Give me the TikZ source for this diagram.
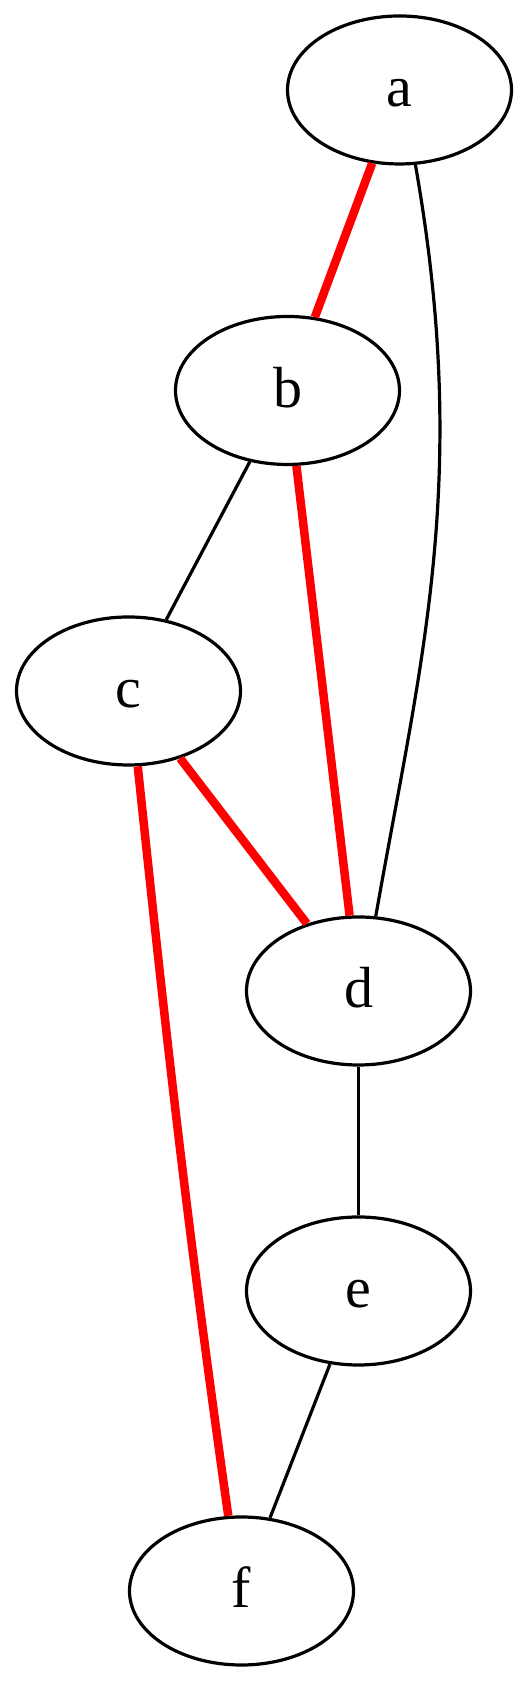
\documentclass[tikz,border=0pt]{standalone}
\usepackage{fontspec}
\setmainfont{Liberation Serif}
\usepackage{tikz}
\usetikzlibrary{shapes.geometric}
\definecolor{edgered}{rgb}{1,0,0}

\tikzset{
  vertex/.style={draw, ellipse, line width=3.2pt, inner sep=0pt,
    minimum width=224pt, minimum height=148pt,
    font=\fontsize{58}{70}\selectfont, text height=40pt, text depth=6pt},
  plain/.style={line width=3.2pt},
  marked/.style={edgered, line width=8.5pt}
}

\begin{document}
\begin{tikzpicture}[x=1pt,y=1pt]
  \useasboundingbox (0,0) rectangle (529,1683);
  % --- Vertices ---
  \node[vertex] (a) at (399.5,1593) {a};
  \node[vertex] (b) at (287.5,1292.5) {b};
  \node[vertex] (c) at (128.5,992) {c};
  \node[vertex] (d) at (358.5,692) {d};
  \node[vertex] (e) at (358.5,392) {e};
  \node[vertex] (f) at (241.5,92) {f};

  % --- Black edges ---
  \draw[plain] (a.-78) .. controls +(-80:320) and +(80:260) .. (d.77);
  \draw[plain] (b) -- (c);
  \draw[plain] (d) -- (e);
  \draw[plain] (e) -- (f);

  % --- Red edges ---
  \draw[marked] (a) -- (b);
  \draw[marked] (b) -- (d);
  \draw[marked] (c) -- (d);
  \draw[marked] (c.-83) to[out=-84, in=98] (f.100);
\end{tikzpicture}
\end{document}
